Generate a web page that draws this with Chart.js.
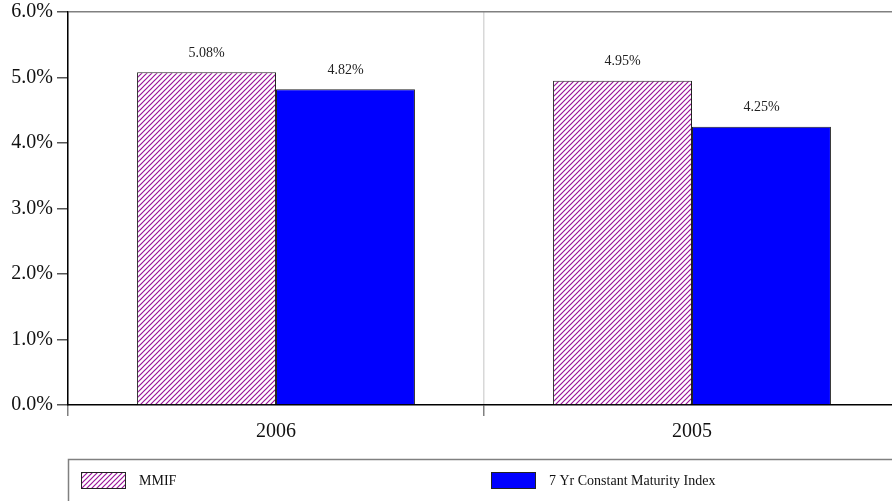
<!DOCTYPE html>
<html>
<head>
<meta charset="utf-8">
<script src="https://cdn.jsdelivr.net/npm/chart.js@4"></script>
<style>
  html, body { margin: 0; padding: 0; background: #fff; overflow: hidden; }
  #wrap { width: 900px; height: 501px; }
</style>
</head>
<body>
<div id="wrap"><canvas id="c" width="900" height="501"></canvas></div>
<script>
// Yields by year
const years = ['2006', '2005'];
const mmif = [5.08, 4.95];
const constantMaturity = [4.82, 4.25];
const seriesNames = ['MMIF', '7 Yr Constant Maturity Index'];
const yTicks = [0, 1, 2, 3, 4, 5, 6];

const SERIF = '"Liberation Serif", "Times New Roman", serif';

// Diagonal purple hatch fill
function makeHatch() {
  const s = 5;
  const t = document.createElement('canvas');
  t.width = s; t.height = s;
  const g = t.getContext('2d');
  g.fillStyle = '#ffffff';
  g.fillRect(0, 0, s, s);
  g.strokeStyle = '#9a139a';
  g.lineWidth = 1.2;
  g.beginPath();
  g.moveTo(-1, s + 1); g.lineTo(s + 1, -1);
  g.moveTo(-1, 1); g.lineTo(1, -1);
  g.moveTo(s - 1, s + 1); g.lineTo(s + 1, s - 1);
  g.stroke();
  return document.getElementById('c').getContext('2d').createPattern(t, 'repeat');
}
const hatch = makeHatch();

// Percentage labels above each bar
const valueLabels = {
  id: 'valueLabels',
  afterDatasetsDraw(chart) {
    const ctx = chart.ctx;
    ctx.save();
    ctx.font = '14px ' + SERIF;
    ctx.fillStyle = '#222';
    ctx.textAlign = 'center';
    ctx.textBaseline = 'middle';
    chart.data.datasets.forEach((ds, i) => {
      chart.getDatasetMeta(i).data.forEach((bar, j) => {
        ctx.fillText(ds.data[j].toFixed(2) + '%', bar.x, bar.y - 19);
      });
    });
    ctx.restore();
  }
};

// Boxed legend along the bottom
const boxLegend = {
  id: 'boxLegend',
  afterDraw(chart) {
    const ctx = chart.ctx;
    const left = chart.chartArea.left;
    ctx.save();
    ctx.strokeStyle = '#808080';
    ctx.lineWidth = 1.5;
    ctx.strokeRect(left + 0.5, 459.5, chart.width, 80);
    ctx.font = '14px ' + SERIF;
    ctx.textBaseline = 'middle';
    ctx.textAlign = 'left';
    chart.data.datasets.forEach((ds, i) => {
      const x = left + 13 + i * 410;
      const y = 472;
      ctx.fillStyle = ds.backgroundColor;
      ctx.fillRect(x, y, 45, 17);
      ctx.strokeStyle = '#222';
      ctx.lineWidth = 1;
      ctx.strokeRect(x + 0.5, y + 0.5, 44, 16);
      ctx.fillStyle = '#111';
      ctx.fillText(ds.label, x + 58, y + 9);
    });
    ctx.restore();
  }
};

new Chart(document.getElementById('c'), {
  type: 'bar',
  data: {
    labels: years,
    datasets: [
      { label: seriesNames[0], data: mmif, backgroundColor: hatch,
        borderColor: '#222', borderWidth: 1 },
      { label: seriesNames[1], data: constantMaturity, backgroundColor: '#0000ff',
        borderColor: '#222', borderWidth: 1 }
    ]
  },
  options: {
    responsive: false,
    animation: false,
    events: [],
    layout: { padding: { top: 12, left: 0, right: 0, bottom: 0 } },
    datasets: { bar: { categoryPercentage: 0.668, barPercentage: 1.0 } },
    plugins: { legend: { display: false }, tooltip: { enabled: false } },
    scales: {
      x: {
        offset: true,
        grid: {
          offset: true,
          color: '#d8d8d8',
          lineWidth: 1.5,
          tickColor: '#808080',
          tickLength: 11
        },
        border: { color: '#000', width: 1.5 },
        ticks: { color: '#111', font: { family: SERIF, size: 20 }, padding: 4 },
        afterFit(scale) { scale.height = 96; }
      },
      y: {
        min: 0,
        max: 6,
        afterBuildTicks(scale) { scale.ticks = yTicks.map(v => ({ value: v })); },
        grid: {
          color: (c) => (c.tick && c.tick.value === 6 ? '#808080' : 'rgba(0,0,0,0)'),
          lineWidth: 1.5,
          tickColor: '#555',
          tickLength: 11
        },
        border: { color: '#000', width: 1.5 },
        ticks: {
          color: '#111',
          font: { family: SERIF, size: 20 },
          padding: 4,
          callback: (v) => v.toFixed(1) + '%'
        },
        afterFit(scale) {
          scale.width = 68;
          scale.paddingTop = 0;
          scale.paddingBottom = 0;
        }
      }
    }
  },
  plugins: [valueLabels, boxLegend]
});
</script>
</body>
</html>
